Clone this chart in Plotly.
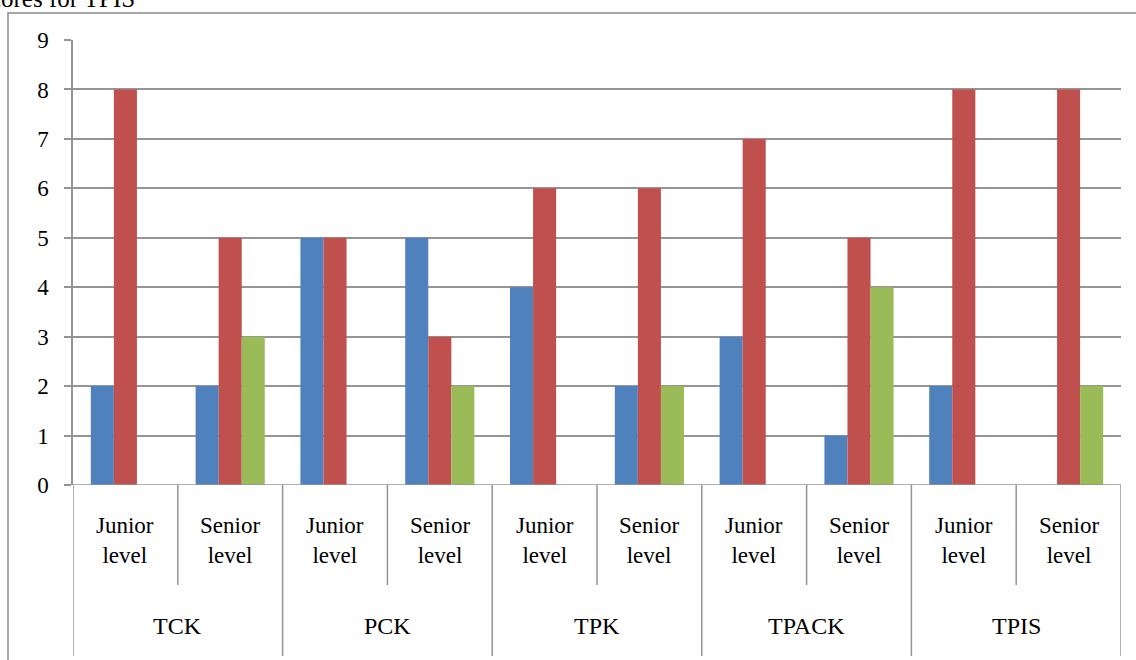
import plotly.graph_objects as go

# ---- data ----
groups = ["TCK", "PCK", "TPK", "TPACK", "TPIS"]
levels = ["Junior level", "Senior level"]
level_labels = ["Junior<br>level", "Senior<br>level"]
series_names = ["Series 1", "Series 2", "Series 3"]
blue_vals = [2, 2, 5, 5, 4, 2, 3, 1, 2, 0]
red_vals = [8, 5, 5, 3, 6, 6, 7, 5, 8, 8]
green_vals = [0, 3, 0, 2, 0, 2, 0, 4, 0, 2]
y_ticks = [0, 1, 2, 3, 4, 5, 6, 7, 8, 9]
title_text = "Scores for TPIS"

colors = ["#4F81BD", "#C0504D", "#9BBB59"]
grid_col = "#959595"
font_fam = "Liberation Serif, Times New Roman, serif"

W, H = 1136, 660
ML, MR, MT, MB = 73, 15, 40, 175
plot_w = W - ML - MR
plot_h = H - MT - MB

def px_to_paper_x(px):
    return (px - ML) / plot_w

def px_to_paper_y(py):
    return (H - MB - py) / plot_h

n_cat = len(groups) * len(levels)
xs = list(range(n_cat))

fig = go.Figure()
for name, vals, col in zip(series_names, [blue_vals, red_vals, green_vals], colors):
    fig.add_trace(go.Bar(x=xs, y=vals, name=name, marker=dict(color=col, line=dict(width=0))))

fig.update_layout(
    width=W, height=H,
    margin=dict(l=ML, r=MR, t=MT, b=MB, pad=0),
    paper_bgcolor="white", plot_bgcolor="white",
    barmode="group", bargap=0.34, bargroupgap=0,
    showlegend=False,
    font=dict(family=font_fam, color="#000000"),
)
fig.update_xaxes(
    range=[-0.5, n_cat - 0.5], showticklabels=False, ticks="",
    showgrid=False, zeroline=False, showline=False,
)
fig.update_yaxes(
    range=[0, 9], tickvals=y_ticks, ticktext=[str(v) for v in y_ticks],
    showgrid=True, gridcolor=grid_col, gridwidth=1.5,
    zeroline=False, showline=True, linecolor=grid_col, linewidth=1.5,
    ticks="outside", ticklen=7, tickcolor=grid_col, tickwidth=1.5,
    ticklabelstandoff=11,
    tickfont=dict(family=font_fam, size=23, color="#000000"),
)

shapes = []
# x-axis baseline
shapes.append(dict(type="line", xref="paper", yref="y", x0=px_to_paper_x(66), x1=1, y0=0, y1=0,
                   line=dict(color=grid_col, width=1.5)))
# subcategory separators (within groups)
for g in range(len(groups)):
    xb = g * len(levels) + 0.5
    shapes.append(dict(type="line", xref="x", yref="paper", x0=xb, x1=xb,
                       y0=0, y1=px_to_paper_y(585), line=dict(color=grid_col, width=1.5)))
# group separators
for g in range(len(groups) + 1):
    xb = g * len(levels) - 0.5
    shapes.append(dict(type="line", xref="x", yref="paper", x0=xb, x1=xb,
                       y0=0, y1=px_to_paper_y(656), line=dict(color=grid_col, width=1.5)))
# outer chart border
shapes.append(dict(type="rect", xref="paper", yref="paper",
                   x0=px_to_paper_x(8), x1=1.2, y0=-1.0, y1=px_to_paper_y(13),
                   line=dict(color="#8A8A8A", width=1.5), fillcolor="rgba(0,0,0,0)"))
fig.update_layout(shapes=shapes)

annotations = []
for g, grp in enumerate(groups):
    for l, lab in enumerate(level_labels):
        annotations.append(dict(x=g * len(levels) + l, xref="x", y=px_to_paper_y(540), yref="paper",
                                text=lab, showarrow=False, xanchor="center", yanchor="middle",
                                font=dict(family=font_fam, size=23, color="#000000")))
    annotations.append(dict(x=g * len(levels) + 0.5, xref="x", y=px_to_paper_y(626), yref="paper",
                            text=grp, showarrow=False, xanchor="center", yanchor="middle",
                            font=dict(family=font_fam, size=24, color="#000000")))
annotations.append(dict(x=px_to_paper_x(137), xref="paper", y=px_to_paper_y(14), yref="paper",
                        text=title_text, showarrow=False, xanchor="right", yanchor="bottom",
                        font=dict(family=font_fam, size=25, color="#000000")))
fig.update_layout(annotations=annotations)

fig.write_html("out.html", config={"displayModeBar": False},
               post_script="document.body.style.margin='0';document.body.style.overflow='hidden';")
